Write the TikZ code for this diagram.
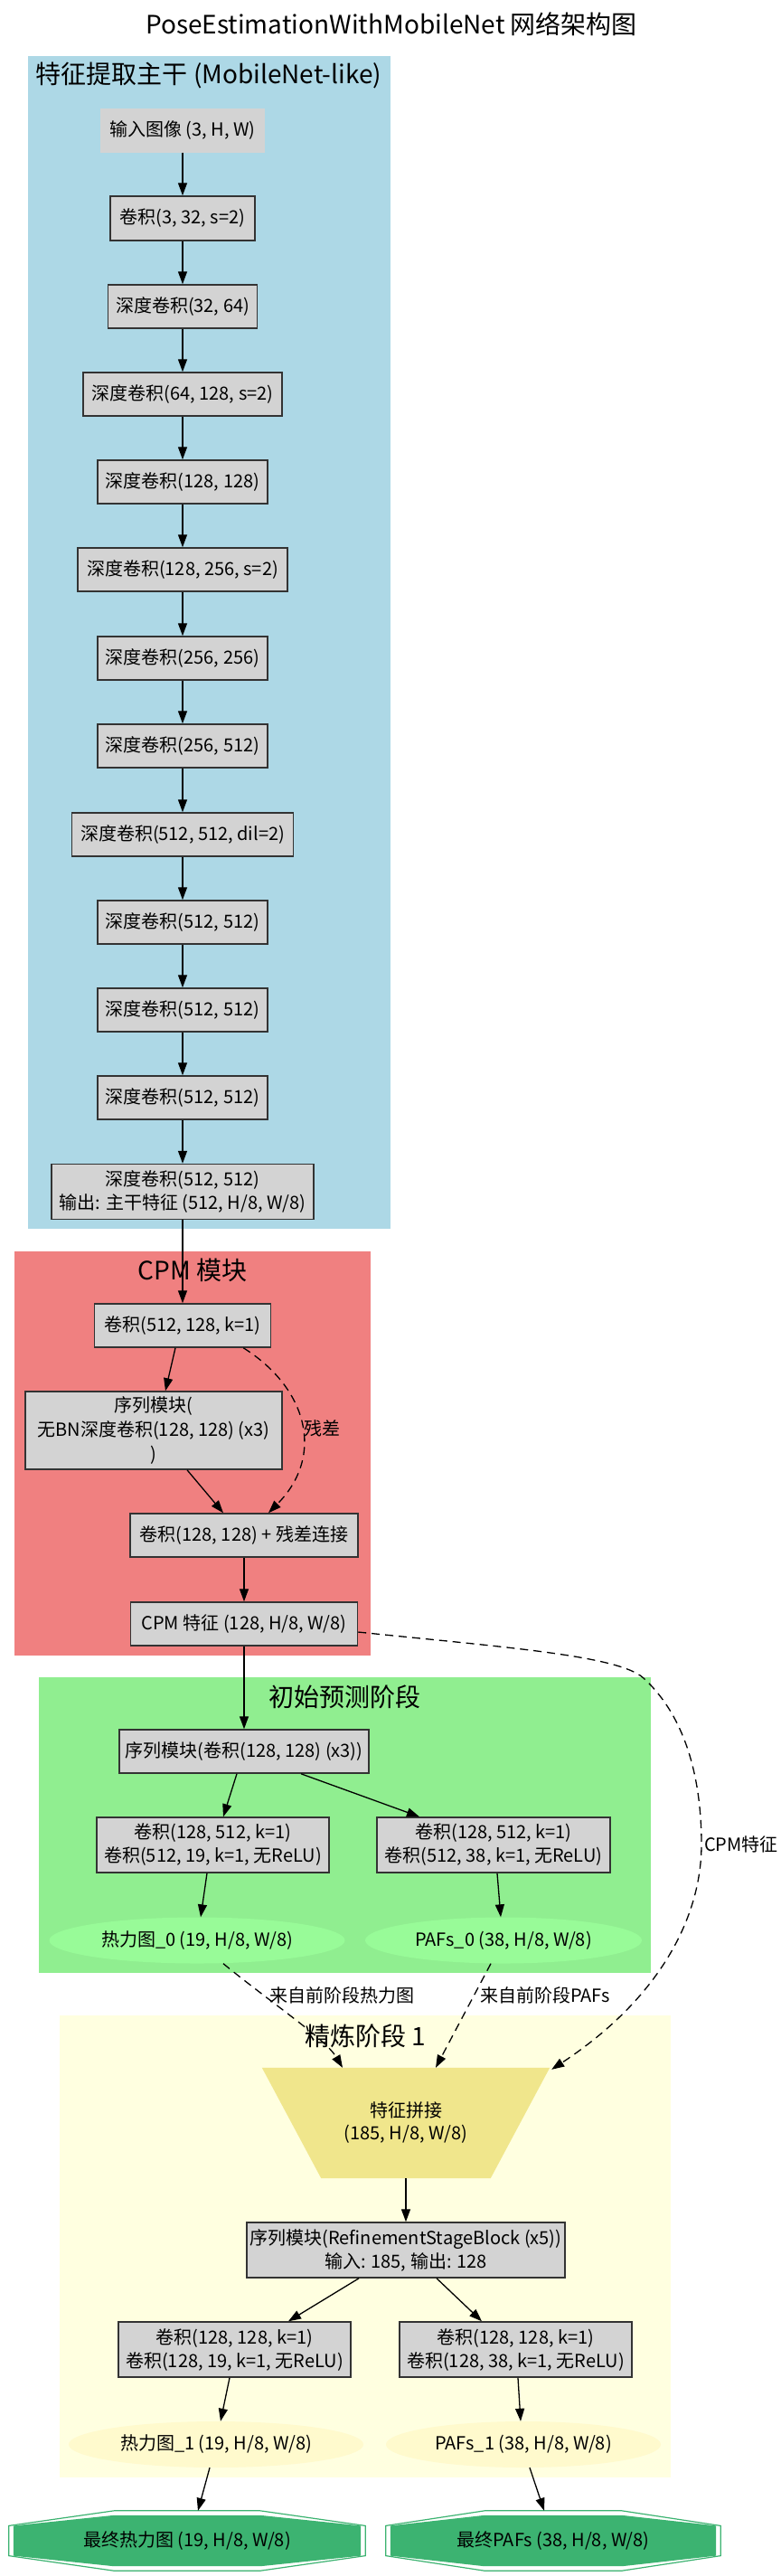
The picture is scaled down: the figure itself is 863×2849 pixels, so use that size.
\documentclass[tikz,border=0pt]{standalone}
\usepackage{fontspec}
\setmainfont{Noto Sans CJK SC}
\usetikzlibrary{arrows.meta,calc,shapes.geometric}
\pgfdeclarelayer{back}
\pgfdeclarelayer{mid}
\pgfsetlayers{back,mid,main}
\definecolor{cblue}{HTML}{ADD8E6}
\definecolor{cred}{HTML}{F08080}
\definecolor{cgreen}{HTML}{90EE90}
\definecolor{cyellow}{HTML}{FFFFE0}
\definecolor{boxgray}{HTML}{D3D3D3}
\definecolor{elgreen}{HTML}{98FB98}
\definecolor{elyellow}{HTML}{FFFACD}
\definecolor{khakic}{HTML}{F0E68C}
\definecolor{seagrn}{HTML}{3CB371}
\newcommand{\octshape}[3]{%
 \path[#3] ($(#1.north west)!0.295!(#1.north east)+(0,#2)$) -- ($(#1.north west)!0.705!(#1.north east)+(0,#2)$) -- ($(#1.north east)!0.25!(#1.south east)+(-#2,0)$) -- ($(#1.north east)!0.75!(#1.south east)+(-#2,0)$) -- ($(#1.south west)!0.705!(#1.south east)+(0,-#2)$) -- ($(#1.south west)!0.295!(#1.south east)+(0,-#2)$) -- ($(#1.north west)!0.75!(#1.south west)+(#2,0)$) -- ($(#1.north west)!0.25!(#1.south west)+(#2,0)$) -- cycle;}
\tikzset{
 every node/.style={font=\fontsize{20}{26}\selectfont, inner sep=0pt, align=center},
 box/.style={draw=black!80, line width=1.5pt, fill=boxgray, rectangle},
 plainbox/.style={fill=boxgray, rectangle},
 lab/.style={font=\fontsize{20}{24}\selectfont},
 ctitle/.style={font=\fontsize{28}{32}\selectfont},
 conn/.style={line width=1.3pt, -{Triangle[length=14pt,width=10pt]}},
 dconn/.style={conn, dash pattern=on 9pt off 6pt},
}
\begin{document}
\begin{tikzpicture}[x=1pt,y=-1pt]
\useasboundingbox (0,0) rectangle (863,2849);
% clusters
\begin{pgfonlayer}{back}
\fill[white] (0,0) rectangle (863,2849);
\fill[cblue] (31,62) rectangle (432,1359);
\fill[cred] (15.5,1384) rectangle (410,1831);
\fill[cgreen] (43,1855) rectangle (720,2182);
\fill[cyellow] (66,2229) rectangle (742,2740);
\end{pgfonlayer}
% titles
\node[ctitle] (t0) at (433,27) {PoseEstimationWithMobileNet 网络架构图};
\node[ctitle] (tb) at (231,83) {特征提取主干 (MobileNet-like)};
\node[ctitle] (tc) at (213,1405) {CPM 模块};
\node[ctitle] (ti) at (381,1877) {初始预测阶段};
\node[ctitle] (tr) at (404,2252) {精炼阶段 1};
% backbone
\node[plainbox, minimum width=182, minimum height=49] (in) at (202,144) {输入图像 (3, H, W)};
\node[box, minimum width=160, minimum height=49] (b1) at (202,241.5) {卷积(3, 32, s=2)};
\node[box, minimum width=165, minimum height=48] (b2) at (202,339) {深度卷积(32, 64)};
\node[box, minimum width=220, minimum height=48] (b3) at (202,436) {深度卷积(64, 128, s=2)};
\node[box, minimum width=188, minimum height=48] (b4) at (202,533) {深度卷积(128, 128)};
\node[box, minimum width=232, minimum height=48] (b5) at (202,630) {深度卷积(128, 256, s=2)};
\node[box, minimum width=188, minimum height=48] (b6) at (202,728) {深度卷积(256, 256)};
\node[box, minimum width=188, minimum height=48] (b7) at (202,825) {深度卷积(256, 512)};
\node[box, minimum width=245, minimum height=48] (b8) at (202,923) {深度卷积(512, 512, dil=2)};
\node[box, minimum width=188, minimum height=48] (b9) at (202,1020) {深度卷积(512, 512)};
\node[box, minimum width=188, minimum height=48] (b10) at (202,1117) {深度卷积(512, 512)};
\node[box, minimum width=188, minimum height=48] (b11) at (202,1214) {深度卷积(512, 512)};
\node[box, minimum width=290, minimum height=61] (b12) at (202,1318) {深度卷积(512, 512)\\输出: 主干特征 (512, H/8, W/8)};
% CPM
\node[box, minimum width=195, minimum height=48] (c1) at (202,1466) {卷积(512, 128, k=1)};
\node[box, minimum width=284, minimum height=86, font=\fontsize{20}{27}\selectfont] (c2) at (170,1582) {序列模块(\\无BN深度卷积(128, 128) (x3)\\)};
\node[box, minimum width=252, minimum height=48] (c3) at (270,1698) {卷积(128, 128) + 残差连接};
\node[box, minimum width=251, minimum height=48] (c4) at (270,1796) {CPM 特征 (128, H/8, W/8)};
% initial stage
\node[box, minimum width=276, minimum height=48] (i1) at (270,1937) {序列模块(卷积(128, 128) (x3))};
\node[box, minimum width=257, minimum height=61] (i2) at (235.5,2040.5) {卷积(128, 512, k=1)\\卷积(512, 19, k=1, 无ReLU)};
\node[box, minimum width=258, minimum height=61] (i3) at (546,2040.5) {卷积(128, 512, k=1)\\卷积(512, 38, k=1, 无ReLU)};
\node[ellipse, fill=elgreen, minimum width=327, minimum height=51] (hm0) at (218,2146) {热力图\_0 (19, H/8, W/8)};
\node[ellipse, fill=elgreen, minimum width=306, minimum height=51] (paf0) at (557,2146) {PAFs\_0 (38, H/8, W/8)};
% refinement stage
\node[minimum width=318, minimum height=122, font=\fontsize{20}{25}\selectfont] (concat) at (449,2348) {特征拼接\\(185, H/8, W/8)};
\node[box, minimum width=352, minimum height=61] (r1) at (449,2488.5) {序列模块(RefinementStageBlock (x5))\\输入: 185, 输出: 128};
\node[box, minimum width=257, minimum height=61] (r2) at (259.5,2598.5) {卷积(128, 128, k=1)\\卷积(128, 19, k=1, 无ReLU)};
\node[box, minimum width=257, minimum height=61] (r3) at (570.5,2598.5) {卷积(128, 128, k=1)\\卷积(128, 38, k=1, 无ReLU)};
\node[ellipse, fill=elyellow, minimum width=326, minimum height=51] (hm1) at (239,2703.5) {热力图\_1 (19, H/8, W/8)};
\node[ellipse, fill=elyellow, minimum width=304, minimum height=51] (paf1) at (579,2703.5) {PAFs\_1 (38, H/8, W/8)};
\node[minimum width=394, minimum height=66] (fin1) at (207,2810) {最终热力图 (19, H/8, W/8)};
\node[minimum width=370, minimum height=66] (fin2) at (612,2810) {最终PAFs (38, H/8, W/8)};
% shapes behind text
\begin{pgfonlayer}{mid}
\fill[khakic] (concat.north west) -- (concat.north east) -- ($(concat.south east)+(-65.5,0)$) -- ($(concat.south west)+(65.5,0)$) -- cycle;
\octshape{fin1}{0}{draw=seagrn, line width=1.2pt}
\octshape{fin1}{5}{fill=seagrn}
\octshape{fin2}{0}{draw=seagrn, line width=1.2pt}
\octshape{fin2}{5}{fill=seagrn}
\end{pgfonlayer}
% labels
\node[lab, anchor=west] (lres) at (336,1580) {残差};
\node[lab, anchor=west] (lcpm) at (779,2040) {CPM特征};
\node[lab, anchor=west] (lhm) at (298,2207) {来自前阶段热力图};
\node[lab, anchor=west] (lpaf) at (531,2207) {来自前阶段PAFs};
% backbone edges
\draw[conn] (in) -- (b1);
\draw[conn] (b1) -- (b2);
\draw[conn] (b2) -- (b3);
\draw[conn] (b3) -- (b4);
\draw[conn] (b4) -- (b5);
\draw[conn] (b5) -- (b6);
\draw[conn] (b6) -- (b7);
\draw[conn] (b7) -- (b8);
\draw[conn] (b8) -- (b9);
\draw[conn] (b9) -- (b10);
\draw[conn] (b10) -- (b11);
\draw[conn] (b11) -- (b12);
\draw[conn] (b12) -- (c1);
% CPM edges
\draw[conn] ($(c1.south)+(-8,0)$) -- ($(c2.north)+(13,0)$);
\draw[dconn] ($(c1.south east)+(-31,0)$) .. controls (340,1535) and (360,1610) .. ($(c3.north)+(27,0)$);
\draw[conn] ($(c2.south)+(37,0)$) -- ($(c3.north)+(-23,0)$);
\draw[conn] (c3) -- (c4);
\draw[conn] (c4) -- (i1);
\draw[dconn] ($(c4.east)+(0,9)$) .. controls (560,1822) and (685,1831) .. (712,1856) .. controls (760,1900) and (776,1970) .. (776,2040) .. controls (776,2120) and (730,2210) .. ($(concat.north east)+(2,2)$);
% initial edges
\draw[conn] ($(i1.south)+(-8,0)$) -- ($(i2.north)+(11.5,0)$);
\draw[conn] ($(i1.south)+(63,0)$) -- ($(i3.north)+(-82,0)$);
\draw[conn] ($(i2.south)+(-6.5,0)$) -- ($(hm0.north)+(4,0)$);
\draw[conn] ($(i3.south)+(4,0)$) -- ($(paf0.north)+(-3,0)$);
\draw[dconn] ($(hm0.south)+(29,0)$) .. controls (300,2215) and (360,2255) .. ($(concat.north)+(-70,0)$);
\draw[dconn] ($(paf0.south)+(-14,0)$) -- ($(concat.north)+(33,0)$);
% refinement edges
\draw[conn] (concat.south) -- (r1.north);
\draw[conn] ($(r1.south)+(-52,0)$) -- ($(r2.north)+(59.5,0)$);
\draw[conn] ($(r1.south)+(34,0)$) -- ($(r3.north)+(-37.5,0)$);
\draw[conn] ($(r2.south)+(-5.5,0)$) -- ($(hm1.north)+(5,0)$);
\draw[conn] ($(r3.south)+(2.5,0)$) -- ($(paf1.north)+(-3,0)$);
\draw[conn] ($(hm1.south)+(-7,0)$) -- ($(fin1.north)+(12,0)$);
\draw[conn] ($(paf1.south)+(7,0)$) -- ($(fin2.north)+(-10,0)$);
\end{tikzpicture}
\end{document}
